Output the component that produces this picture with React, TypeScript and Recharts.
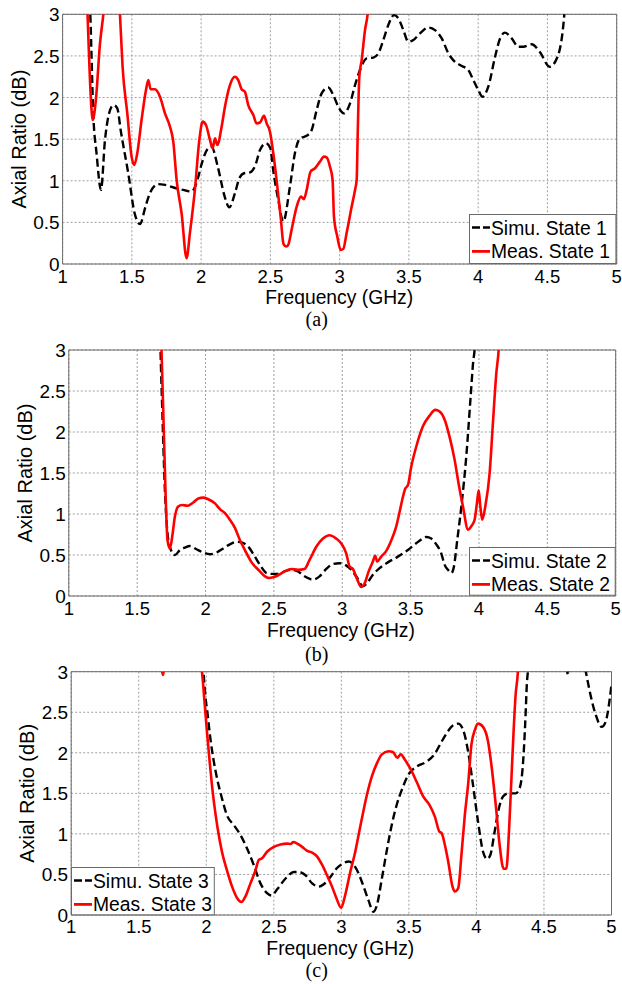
import React from 'react';
import { LineChart, Line, XAxis, YAxis, CartesianGrid, ReferenceArea, Legend, Customized } from 'recharts';

const xTicks = [1, 1.5, 2, 2.5, 3, 3.5, 4, 4.5, 5];
const yTicks = [0, 0.5, 1, 1.5, 2, 2.5, 3];
const xTitle = 'Frequency (GHz)';
const yTitle = 'Axial Ratio (dB)';

// ---------- (a) State 1 ----------
const simu1Freq = [1.17, 1.2, 1.222, 1.245, 1.277, 1.306, 1.33, 1.354, 1.37, 1.395, 1.42, 1.474, 1.52, 1.558, 1.6, 1.63, 1.69, 1.74, 1.82, 1.895, 1.93, 1.98, 2.0, 2.05, 2.075, 2.12, 2.17, 2.203, 2.244, 2.276, 2.31, 2.353, 2.39, 2.425, 2.468, 2.5, 2.52, 2.557, 2.593, 2.641, 2.677, 2.714, 2.762, 2.798, 2.834, 2.87, 2.918, 2.954, 2.99, 3.031, 3.075, 3.111, 3.147, 3.195, 3.243, 3.279, 3.315, 3.351, 3.392, 3.424, 3.46, 3.496, 3.532, 3.58, 3.64, 3.688, 3.737, 3.785, 3.82, 3.869, 3.929, 3.965, 4.001, 4.03, 4.073, 4.122, 4.158, 4.194, 4.242, 4.29, 4.326, 4.386, 4.444, 4.516, 4.573, 4.616, 4.66];
const simu1AR = [4.0, 3.0, 1.78, 1.33, 0.89, 1.49, 1.77, 1.89, 1.91, 1.87, 1.6, 1.09, 0.61, 0.48, 0.7, 0.85, 0.96, 0.95, 0.91, 0.88, 0.87, 1.05, 1.18, 1.39, 1.41, 1.17, 0.81, 0.68, 0.85, 1.03, 1.09, 1.1, 1.18, 1.37, 1.45, 1.39, 1.13, 0.77, 0.51, 0.93, 1.33, 1.51, 1.54, 1.61, 1.85, 2.05, 2.12, 2.03, 1.89, 1.81, 1.93, 2.15, 2.33, 2.47, 2.48, 2.53, 2.69, 2.87, 2.99, 2.95, 2.81, 2.67, 2.69, 2.77, 2.84, 2.81, 2.71, 2.53, 2.45, 2.39, 2.33, 2.21, 2.09, 2.01, 2.13, 2.49, 2.71, 2.78, 2.71, 2.61, 2.61, 2.64, 2.55, 2.37, 2.49, 2.89, 4.0];
const meas1Freq = [1.15, 1.18, 1.209, 1.217, 1.24, 1.27, 1.294, 1.35, 1.414, 1.433, 1.467, 1.498, 1.517, 1.539, 1.57, 1.602, 1.619, 1.635, 1.667, 1.703, 1.739, 1.775, 1.799, 1.823, 1.859, 1.895, 1.919, 1.955, 1.987, 2.011, 2.035, 2.064, 2.083, 2.1, 2.117, 2.148, 2.172, 2.208, 2.244, 2.268, 2.292, 2.316, 2.34, 2.377, 2.4, 2.425, 2.454, 2.473, 2.497, 2.521, 2.55, 2.574, 2.595, 2.615, 2.629, 2.653, 2.69, 2.721, 2.742, 2.762, 2.79, 2.822, 2.858, 2.887, 2.906, 2.93, 2.949, 2.959, 2.983, 3.007, 3.026, 3.05, 3.087, 3.111, 3.123, 3.13, 3.142, 3.159, 3.183, 3.202, 3.23];
const meas1AR = [4.5, 3.0, 1.85, 1.73, 1.97, 2.65, 3.0, 4.2, 3.0, 2.37, 1.81, 1.29, 1.19, 1.33, 1.73, 2.09, 2.21, 2.1, 2.1, 2.01, 1.81, 1.65, 1.47, 1.01, 0.61, 0.07, 0.37, 0.89, 1.49, 1.71, 1.67, 1.49, 1.39, 1.51, 1.43, 1.65, 1.89, 2.15, 2.25, 2.21, 2.1, 2.07, 1.91, 1.79, 1.69, 1.7, 1.78, 1.69, 1.59, 1.33, 0.93, 0.57, 0.24, 0.21, 0.23, 0.41, 0.69, 0.81, 0.78, 0.89, 1.11, 1.15, 1.23, 1.29, 1.28, 1.17, 1.01, 0.57, 0.33, 0.17, 0.18, 0.37, 0.69, 0.89, 1.01, 1.53, 2.25, 2.45, 2.81, 3.0, 3.6];

// ---------- (b) State 2 ----------
const simu2Freq = [1.66, 1.671, 1.683, 1.703, 1.722, 1.739, 1.776, 1.812, 1.849, 1.886, 1.934, 1.983, 2.032, 2.081, 2.13, 2.178, 2.227, 2.269, 2.313, 2.361, 2.398, 2.447, 2.483, 2.529, 2.578, 2.627, 2.676, 2.724, 2.785, 2.834, 2.883, 2.932, 2.98, 3.022, 3.066, 3.11, 3.151, 3.188, 3.224, 3.273, 3.334, 3.407, 3.48, 3.554, 3.615, 3.651, 3.688, 3.724, 3.749, 3.773, 3.798, 3.817, 3.841, 3.871, 3.907, 3.939, 3.959, 3.968, 3.99];
const simu2AR = [4.0, 3.0, 2.31, 1.29, 0.76, 0.6, 0.5, 0.56, 0.59, 0.61, 0.57, 0.53, 0.51, 0.53, 0.58, 0.63, 0.66, 0.65, 0.6, 0.48, 0.38, 0.28, 0.27, 0.27, 0.3, 0.32, 0.3, 0.24, 0.2, 0.24, 0.33, 0.39, 0.4, 0.38, 0.32, 0.22, 0.12, 0.17, 0.26, 0.34, 0.41, 0.48, 0.56, 0.66, 0.72, 0.7, 0.63, 0.52, 0.38, 0.32, 0.28, 0.36, 0.68, 1.09, 1.7, 2.43, 2.88, 3.0, 4.0];
const meas2Freq = [1.665, 1.678, 1.69, 1.707, 1.722, 1.739, 1.756, 1.776, 1.8, 1.829, 1.868, 1.91, 1.947, 1.983, 2.02, 2.069, 2.105, 2.142, 2.178, 2.215, 2.252, 2.288, 2.337, 2.386, 2.435, 2.464, 2.496, 2.529, 2.578, 2.627, 2.676, 2.724, 2.761, 2.81, 2.859, 2.907, 2.956, 2.993, 3.029, 3.054, 3.078, 3.11, 3.139, 3.163, 3.193, 3.224, 3.241, 3.256, 3.285, 3.322, 3.359, 3.395, 3.42, 3.444, 3.461, 3.48, 3.505, 3.541, 3.59, 3.639, 3.68, 3.712, 3.749, 3.785, 3.822, 3.851, 3.883, 3.92, 3.944, 3.968, 3.985, 3.998, 4.01, 4.024, 4.046, 4.078, 4.102, 4.127, 4.144, 4.17];
const meas2AR = [4.0, 3.0, 2.31, 1.29, 0.68, 0.58, 0.72, 0.97, 1.09, 1.11, 1.1, 1.14, 1.19, 1.2, 1.18, 1.13, 1.06, 1.01, 0.93, 0.83, 0.68, 0.56, 0.41, 0.32, 0.24, 0.22, 0.23, 0.25, 0.3, 0.33, 0.32, 0.33, 0.44, 0.6, 0.7, 0.74, 0.7, 0.64, 0.52, 0.36, 0.33, 0.2, 0.11, 0.15, 0.3, 0.42, 0.49, 0.42, 0.48, 0.55, 0.68, 0.85, 1.03, 1.21, 1.31, 1.35, 1.58, 1.82, 2.07, 2.2, 2.27, 2.25, 2.15, 1.94, 1.66, 1.37, 1.09, 0.81, 0.85, 0.93, 1.13, 1.29, 1.09, 0.93, 1.09, 1.5, 2.11, 2.72, 3.0, 4.0];

// ---------- (c) State 3 ----------
const simu3Freq = [1.96, 1.98, 1.993, 2.01, 2.03, 2.054, 2.079, 2.116, 2.153, 2.203, 2.252, 2.302, 2.351, 2.401, 2.45, 2.483, 2.526, 2.587, 2.649, 2.686, 2.735, 2.784, 2.833, 2.87, 2.919, 2.968, 3.017, 3.054, 3.091, 3.128, 3.165, 3.201, 3.238, 3.263, 3.3, 3.337, 3.373, 3.41, 3.447, 3.496, 3.558, 3.631, 3.693, 3.73, 3.779, 3.828, 3.865, 3.902, 3.939, 3.975, 4.012, 4.049, 4.079, 4.103, 4.135, 4.167, 4.197, 4.233, 4.29, 4.319, 4.344, 4.364, 4.373, 4.381, 4.5, 4.665, 4.678, 4.69, 4.75, 4.81, 4.883, 4.927, 4.956, 5.0];
const simu3AR = [4.0, 3.0, 2.71, 2.47, 2.18, 1.91, 1.69, 1.44, 1.23, 1.11, 0.99, 0.82, 0.62, 0.39, 0.27, 0.24, 0.32, 0.45, 0.53, 0.53, 0.49, 0.39, 0.35, 0.38, 0.47, 0.58, 0.64, 0.66, 0.62, 0.51, 0.35, 0.18, 0.04, 0.12, 0.45, 0.8, 1.11, 1.36, 1.54, 1.73, 1.83, 1.89, 1.99, 2.1, 2.24, 2.34, 2.36, 2.28, 2.01, 1.6, 1.15, 0.78, 0.69, 0.74, 1.03, 1.32, 1.46, 1.5, 1.5, 1.56, 1.85, 2.47, 2.84, 3.0, 4.2, 3.1, 2.96, 3.1, 3.6, 3.0, 2.47, 2.32, 2.38, 2.84];
const meas3Freq = [1.66, 1.68, 1.7, 1.8, 1.968, 1.985, 2.005, 2.025, 2.042, 2.059, 2.084, 2.116, 2.153, 2.191, 2.228, 2.26, 2.29, 2.327, 2.364, 2.389, 2.413, 2.45, 2.5, 2.55, 2.6, 2.624, 2.644, 2.673, 2.71, 2.747, 2.784, 2.821, 2.857, 2.894, 2.931, 2.963, 2.998, 3.029, 3.066, 3.103, 3.128, 3.152, 3.189, 3.226, 3.263, 3.3, 3.349, 3.381, 3.415, 3.44, 3.472, 3.509, 3.558, 3.607, 3.651, 3.693, 3.725, 3.742, 3.767, 3.791, 3.823, 3.84, 3.865, 3.889, 3.914, 3.939, 3.963, 3.988, 4.012, 4.049, 4.086, 4.111, 4.143, 4.172, 4.201, 4.221, 4.241, 4.258, 4.275, 4.29, 4.307, 4.33];
const meas3AR = [3.2, 2.96, 3.2, 4.0, 3.0, 2.67, 2.26, 1.89, 1.6, 1.36, 1.07, 0.78, 0.55, 0.35, 0.21, 0.16, 0.23, 0.39, 0.55, 0.68, 0.7, 0.78, 0.84, 0.87, 0.88, 0.875, 0.9, 0.88, 0.84, 0.79, 0.77, 0.72, 0.62, 0.49, 0.35, 0.21, 0.09, 0.25, 0.53, 0.78, 0.99, 1.19, 1.48, 1.71, 1.87, 1.98, 2.02, 2.01, 1.94, 1.98, 1.91, 1.81, 1.64, 1.46, 1.36, 1.21, 1.03, 1.01, 0.86, 0.66, 0.35, 0.29, 0.33, 0.74, 1.23, 1.62, 2.1, 2.28, 2.36, 2.32, 2.14, 1.85, 1.36, 0.86, 0.57, 0.57, 1.03, 1.64, 2.26, 2.71, 3.0, 4.0];

const legend1 = ['Simu. State 1', 'Meas. State 1'];
const legend2 = ['Simu. State 2', 'Meas. State 2'];
const legend3 = ['Simu. State 3', 'Meas. State 3'];
const captions = ['(a)', '(b)', '(c)'];

const zip = (f: number[], v: number[]) => f.map((x, i) => ({ f: x, v: v[i] }));

const SANS = '"Liberation Sans", Arial, Helvetica, sans-serif';
const SERIF = '"Liberation Serif", "Times New Roman", serif';
const FRAME = '#6a6a6a';

type Layout = {
  top: number;
  height: number;
  plot: { left: number; top: number; right: number; bottom: number };
  legend: { x: number; y: number; w: number; h: number };
  yTitleX: number;
  xTitle: { x: number; y: number };
  caption: { x: number; y: number };
  tickDy: number;
};

const layouts: Layout[] = [
  {
    top: 0, height: 340,
    plot: { left: 62.6, top: 14.3, right: 616.7, bottom: 264 },
    legend: { x: 469.3, y: 214, w: 147.4, h: 50 },
    yTitleX: 25.5, xTitle: { x: 339.2, y: 304.2 }, caption: { x: 316.7, y: 326.2 }, tickDy: 18.6,
  },
  {
    top: 330, height: 340,
    plot: { left: 68.8, top: 20, right: 615.7, bottom: 266 },
    legend: { x: 469, y: 217.3, w: 146.7, h: 48.7 },
    yTitleX: 31.5, xTitle: { x: 341, y: 306.6 }, caption: { x: 316.7, y: 330.5 }, tickDy: 18.9,
  },
  {
    top: 655, height: 329,
    plot: { left: 71.2, top: 16.7, right: 611.5, bottom: 260 },
    legend: { x: 71.2, y: 211.7, w: 143.8, h: 48.3 },
    yTitleX: 33.5, xTitle: { x: 340.3, y: 300 }, caption: { x: 316.7, y: 321.5 }, tickDy: 18.3,
  },
];

const makeXTick = (dy: number) => (props: any) => {
  const { x, y, payload } = props;
  return (
    <text x={x} y={y + dy} textAnchor="middle" fontFamily={SANS} fontSize={18.5} fill="#000">
      {String(payload.value)}
    </text>
  );
};

const renderYTick = (props: any) => {
  const { x, y, payload } = props;
  return (
    <text x={x - 3} y={y + 7} textAnchor="end" fontFamily={SANS} fontSize={19} fill="#000">
      {String(payload.value)}
    </text>
  );
};

const makeLegend = (labels: string[], box: { w: number; h: number }) => () => (
  <svg width={box.w} height={box.h} style={{ display: 'block', overflow: 'visible' }}>
    <rect x={0.5} y={0.5} width={box.w - 1} height={box.h - 1} fill="#fff" stroke={FRAME} strokeWidth={1} />
    <line x1={3} x2={21} y1={13.6} y2={13.6} stroke="#000" strokeWidth={2.5} strokeDasharray="8 3" />
    <text x={22} y={20.5} fontFamily={SANS} fontSize={19.3} fill="#000">{labels[0]}</text>
    <line x1={3} x2={21} y1={37.4} y2={37.4} stroke="#ff0000" strokeWidth={2.8} />
    <text x={22} y={44.3} fontFamily={SANS} fontSize={19.3} fill="#000">{labels[1]}</text>
  </svg>
);

type PanelProps = {
  layout: Layout;
  simu: { f: number; v: number }[];
  meas: { f: number; v: number }[];
  legendLabels: string[];
  caption: string;
};

const Panel = ({ layout, simu, meas, legendLabels, caption }: PanelProps) => {
  const { plot, height } = layout;
  const xAxisHeight = 30;
  const margin = {
    top: plot.top,
    left: 0,
    right: 622 - plot.right,
    bottom: height - plot.bottom - xAxisHeight,
  };
  const cy = (plot.top + plot.bottom) / 2;
  const Titles = () => (
    <g>
      <text
        transform={`translate(${layout.yTitleX}, ${cy}) rotate(-90)`}
        textAnchor="middle"
        fontFamily={SANS}
        fontSize={20}
        fill="#000"
      >
        {yTitle}
      </text>
      <text x={layout.xTitle.x} y={layout.xTitle.y} textAnchor="middle" fontFamily={SANS} fontSize={19.3} fill="#000">
        {xTitle}
      </text>
      <text x={layout.caption.x} y={layout.caption.y} textAnchor="middle" fontFamily={SERIF} fontSize={20} fill="#000">
        {caption}
      </text>
    </g>
  );
  return (
    <div style={{ position: 'absolute', left: 0, top: layout.top, width: 622, height }}>
      <LineChart width={622} height={height} margin={margin}>
        <CartesianGrid stroke="#a0a0a0" strokeDasharray="2 2" strokeWidth={1} />
        <XAxis
          dataKey="f"
          type="number"
          domain={[1, 5]}
          ticks={xTicks}
          interval={0}
          allowDataOverflow
          axisLine={false}
          tickLine={false}
          tickSize={0}
          tickMargin={0}
          height={xAxisHeight}
          tick={makeXTick(layout.tickDy)}
        />
        <YAxis
          type="number"
          domain={[0, 3]}
          ticks={yTicks}
          interval={0}
          allowDataOverflow
          axisLine={false}
          tickLine={false}
          tickSize={0}
          tickMargin={0}
          width={plot.left}
          tick={renderYTick}
        />
        <ReferenceArea x1={1} x2={5} y1={0} y2={3} fill="none" stroke={FRAME} strokeWidth={1} />
        <Line
          data={simu}
          dataKey="v"
          name={legendLabels[0]}
          type="monotone"
          stroke="#000"
          strokeWidth={2.4}
          strokeDasharray="8 4"
          dot={false}
          activeDot={false}
          isAnimationActive={false}
        />
        <Line
          data={meas}
          dataKey="v"
          name={legendLabels[1]}
          type="monotone"
          stroke="#ff0000"
          strokeWidth={2.6}
          dot={false}
          activeDot={false}
          isAnimationActive={false}
        />
        <Legend
          layout="vertical"
          align="center"
          verticalAlign="middle"
          content={makeLegend(legendLabels, layout.legend)}
          wrapperStyle={{
            position: 'absolute',
            left: layout.legend.x,
            top: layout.legend.y,
            width: layout.legend.w,
            height: layout.legend.h,
            margin: 0,
            padding: 0,
          }}
        />
        <Customized component={Titles} />
      </LineChart>
    </div>
  );
};

export default function App() {
  return (
    <div style={{ position: 'absolute', left: 0, top: 0, width: 622, height: 984, background: '#fff', overflow: 'hidden' }}>
      <Panel layout={layouts[0]} simu={zip(simu1Freq, simu1AR)} meas={zip(meas1Freq, meas1AR)} legendLabels={legend1} caption={captions[0]} />
      <Panel layout={layouts[1]} simu={zip(simu2Freq, simu2AR)} meas={zip(meas2Freq, meas2AR)} legendLabels={legend2} caption={captions[1]} />
      <Panel layout={layouts[2]} simu={zip(simu3Freq, simu3AR)} meas={zip(meas3Freq, meas3AR)} legendLabels={legend3} caption={captions[2]} />
    </div>
  );
}
